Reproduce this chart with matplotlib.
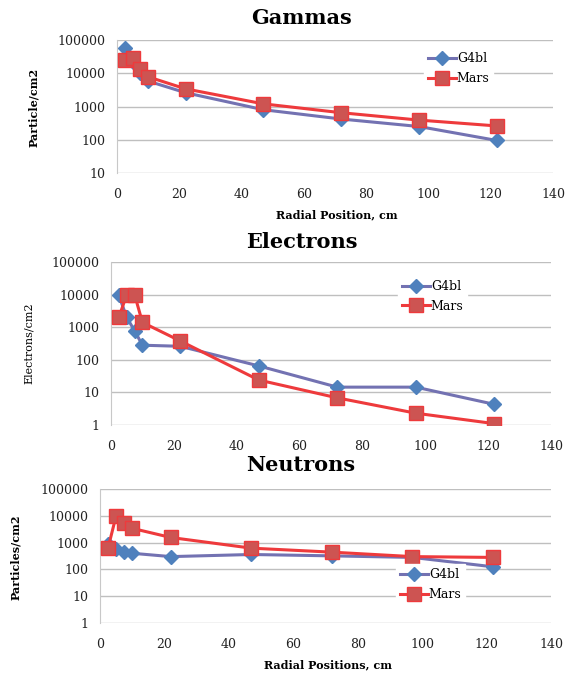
import numpy as np
import matplotlib
matplotlib.use('Agg')
import matplotlib.pyplot as plt
from matplotlib.ticker import FixedLocator, FixedFormatter

# Positions radiales (cm)
x_pos = [2.5, 5, 7.5, 10, 22, 47, 72, 97, 122]

# Gammas
gam_g4bl = [57000, 22000, 10000, 5800, 2600, 800, 420, 250, 95]
gam_mars = [25000, 29000, 13500, 7800, 3400, 1200, 650, 390, 260]

# Electrons
ele_g4bl = [9500, 2000, 780, 280, 260, 65, 14.5, 14.5, 4.3]
ele_mars = [2000, 10000, 10000, 1400, 380, 24, 6.8, 2.3, 1.1]

# Neutrons
neu_g4bl = [850, 580, 450, 400, 300, 360, 320, 280, 125]
neu_mars = [630, 10000, 5400, 3400, 1550, 620, 440, 300, 280]

x_ticks = [0, 20, 40, 60, 80, 100, 120, 140]

W, H = 565, 674
fig = plt.figure(figsize=(W / 100, H / 100), dpi=100)

SERIF = 'DejaVu Serif'
G4_LINE = '#7372B2'
G4_MARK = '#4F81BD'
MA_LINE = '#EE3A3C'
MA_FACE = '#CD5452'


def px_axes(left, right, top, bottom):
    return fig.add_axes([left / W, 1 - bottom / H, (right - left) / W, (bottom - top) / H])


def style(ax, ymin):
    ax.set_yscale('log')
    ax.set_xlim(0, 140)
    ax.set_ylim(ymin, 100000)
    yt = [10 ** k for k in range(int(np.log10(ymin)), 6)]
    ax.yaxis.set_major_locator(FixedLocator(yt))
    ax.yaxis.set_major_formatter(FixedFormatter([str(v) for v in yt]))
    ax.yaxis.set_minor_locator(FixedLocator([]))
    ax.set_xticks(x_ticks)
    ax.set_xticklabels([str(v) for v in x_ticks])
    ax.grid(True, axis='y', color='#BFBFBF', linewidth=1)
    ax.set_axisbelow(True)
    for s in ['top', 'right', 'bottom']:
        ax.spines[s].set_visible(False)
    ax.spines['left'].set_color('#C8C8C8')
    ax.tick_params(length=0, labelsize=9, colors='#222222')
    ax.tick_params(axis='x', pad=11)
    ax.tick_params(axis='y', pad=8)
    for lab in ax.get_xticklabels() + ax.get_yticklabels():
        lab.set_family(SERIF)


def draw(ax, g4, mars):
    ax.plot(x_pos, g4, color=G4_LINE, lw=2.2, marker='D', ms=7,
            mfc=G4_MARK, mec=G4_MARK, label='G4bl', zorder=3)
    ax.plot(x_pos, mars, color=MA_LINE, lw=2.2, marker='s', ms=9.5,
            mfc=MA_FACE, mec=MA_LINE, mew=1, label='Mars', zorder=4)


def legend(ax, x, y):
    leg = ax.legend(loc='upper left', bbox_to_anchor=(x / W, 1 - y / H),
                    bbox_transform=fig.transFigure, frameon=True, fancybox=False,
                    edgecolor='white', facecolor='white', framealpha=1,
                    prop={'family': SERIF, 'size': 9}, handlelength=2.2,
                    handletextpad=0.1, labelspacing=0.55, borderpad=0.3)
    leg.set_zorder(5)


# Gammas
ax1 = px_axes(117, 553, 40, 173)
draw(ax1, gam_g4bl, gam_mars)
style(ax1, 10)
legend(ax1, 418, 42)
fig.text(301 / W, 1 - 18 / H, 'Gammas', ha='center', va='center',
         family=SERIF, weight='bold', fontsize=15)
fig.text(34 / W, 1 - 107 / H, 'Particle/cm2', rotation=90, ha='center', va='center',
         family=SERIF, weight='bold', fontsize=8)
fig.text(337 / W, 1 - 215 / H, 'Radial Position, cm', ha='center', va='center',
         family=SERIF, weight='bold', fontsize=8)

# Electrons
ax2 = px_axes(111, 551, 262, 425)
draw(ax2, ele_g4bl, ele_mars)
style(ax2, 1)
legend(ax2, 392, 270)
fig.text(302 / W, 1 - 242 / H, 'Electrons', ha='center', va='center',
         family=SERIF, weight='bold', fontsize=15)
fig.text(29 / W, 1 - 343 / H, 'Electrons/cm2', rotation=90, ha='center', va='center',
         family=SERIF, fontsize=8)

# Neutrons
ax3 = px_axes(100, 551, 489, 623)
draw(ax3, neu_g4bl, neu_mars)
style(ax3, 1)
legend(ax3, 390, 558)
fig.text(301 / W, 1 - 465 / H, 'Neutrons', ha='center', va='center',
         family=SERIF, weight='bold', fontsize=15)
fig.text(16 / W, 1 - 557 / H, 'Particles/cm2', rotation=90, ha='center', va='center',
         family=SERIF, weight='bold', fontsize=8)
fig.text(328 / W, 1 - 665 / H, 'Radial Positions, cm', ha='center', va='center',
         family=SERIF, weight='bold', fontsize=8)

fig.savefig('out.png', dpi=100, facecolor='white')
